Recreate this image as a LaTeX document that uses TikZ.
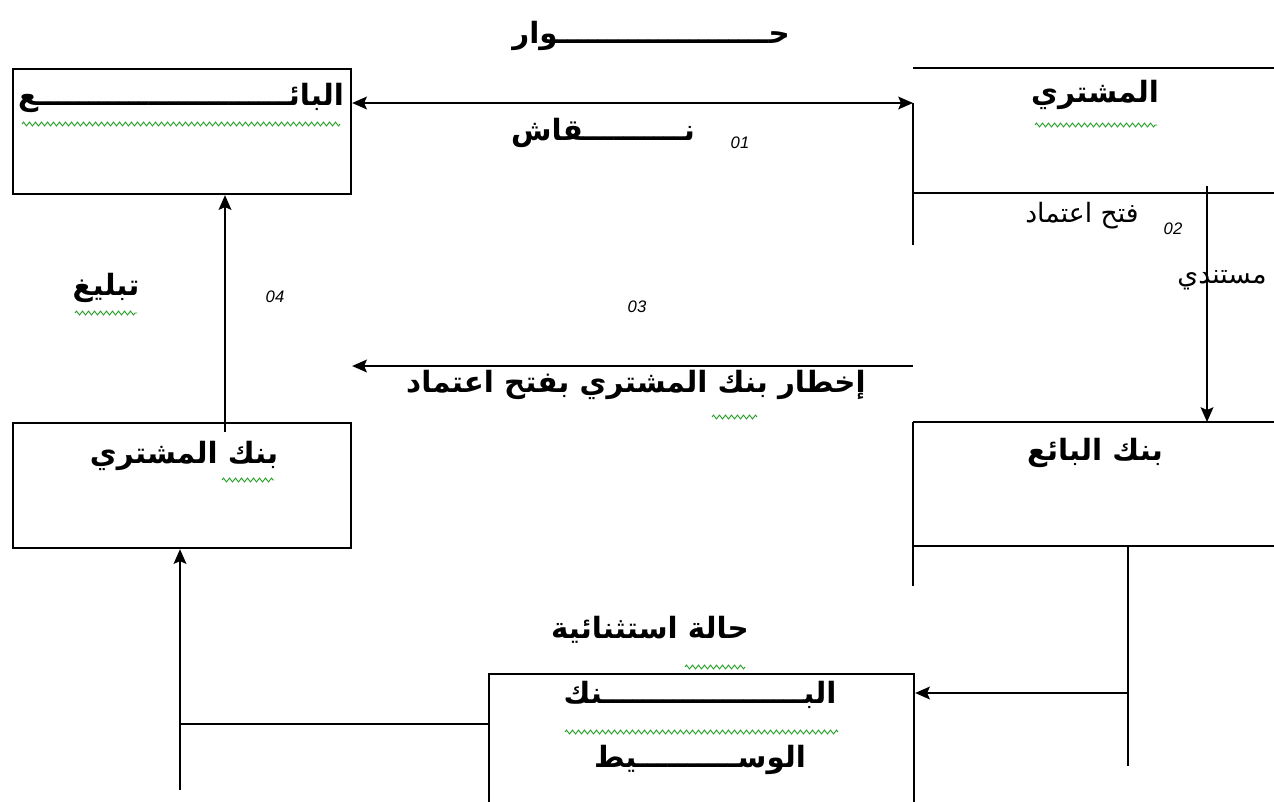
\documentclass[tikz,border=0pt]{standalone}
\usepackage{fontspec}
\usetikzlibrary{arrows.meta,decorations.pathmorphing}
\TeXXeTstate=1
\newfontfamily\arab[Script=Arabic]{DejaVu Sans}
\newfontfamily\lat{Liberation Sans}
\definecolor{spell}{RGB}{40,160,40}
\begin{document}
\begin{tikzpicture}[x=0.75pt,y=-0.75pt,
  line/.style={line width=1.6pt},
  arr/.style={line, -{Stealth[length=11pt,width=9.5pt,inset=2pt]}},
  darr/.style={line, {Stealth[length=11pt,width=9.5pt,inset=2pt]}-{Stealth[length=11pt,width=9.5pt,inset=2pt]}},
  box/.style={draw, line width=1.6pt, anchor=north west, inner sep=0pt},
  big/.style={font=\arab\bfseries\fontsize{22}{26}\selectfont, inner sep=0pt},
  small/.style={font=\arab\fontsize{20}{24}\selectfont, inner sep=0pt},
  num/.style={font=\lat\itshape\fontsize{12.5}{15}\selectfont, inner sep=0pt},
  wavy/.style={draw=spell, line width=0.7pt, decorate, decoration={zigzag, amplitude=1.4pt, segment length=4.5pt}}]
\useasboundingbox (0,0) rectangle (1274,801);

% boxes
\node[box, minimum width=253.5pt, minimum height=93.75pt] (seller) at (12,68) {};
\node[box, minimum width=253.5pt, minimum height=93.75pt] (bbank) at (12,422) {};
\node[box, minimum width=318.75pt, minimum height=120pt] (mid) at (488,673) {};

% open boxes on the right
\coordinate (bu1) at (913,68);
\coordinate (bu2) at (1274,68);
\coordinate (bu3) at (913,193);
\coordinate (bu4) at (1274,193);
\coordinate (bu5) at (913,245);
\coordinate (bu0) at (913,103);
\draw[line] (bu1) -- (bu2);
\draw[line] (bu3) -- (bu4);
\draw[line] (bu0) -- (bu5);

\coordinate (sb1) at (913,422);
\coordinate (sb2) at (1274,422);
\coordinate (sb3) at (913,546);
\coordinate (sb4) at (1274,546);
\coordinate (sb5) at (913,586);
\draw[line] (sb1) -- (sb2);
\draw[line] (sb3) -- (sb4);
\draw[line] (sb1) -- (sb5);

% labels
\node[big] (hiwar) at (651,36) {\beginR حـــــــــــــــــــــوار\endR};
\node[big] (niqash) at (603,133) {\beginR نــــــــــقاش\endR};
\node[num] (n01) at (740,143) {01};
\node[big] (tseller) at (181,98) {\beginR البائـــــــــــــــــــــــــع\endR};
\node[big] (tbuyer) at (1095,95) {\beginR المشتري\endR};
\node[small] (t02) at (1082,216) {\beginR فتح اعتماد\endR};
\node[num] (n02) at (1173,229) {02};
\node[small] (t02b) at (1222,280) {\beginR مستندي\endR};
\node[num] (n03) at (637,307) {03};
\node[big] (t03) at (636,385) {\beginR إخطار بنك المشتري بفتح اعتماد\endR};
\node[big] (t04) at (106,288) {\beginR تبليغ\endR};
\node[num] (n04) at (275,297) {04};
\node[big] (tbbank) at (184,456) {\beginR بنك المشتري\endR};
\node[big] (tsbank) at (1095,453) {\beginR بنك البائع\endR};
\node[big] (texc) at (650,630) {\beginR حالة استثنائية\endR};
\node[big] (tmid1) at (700,695) {\beginR البــــــــــــــــــــنك\endR};
\node[big] (tmid2) at (700,760) {\beginR الوســــــــــيط\endR};

% spell-check underlines
\draw[wavy] (22,124) -- (340,124);
\draw[wavy] (1035,125) -- (1157,125);
\draw[wavy] (712,417) -- (757,417);
\draw[wavy] (75,313) -- (137,313);
\draw[wavy] (222,480) -- (274,480);
\draw[wavy] (685,667) -- (745,667);
\draw[wavy] (565,732) -- (838,732);

% connectors
\coordinate (a01r) at (913,103);
\draw[darr] (seller.east |- a01r) -- (a01r);

\coordinate (a02s) at (1207,186);
\coordinate (a02e) at (1207,422);
\draw[arr] (a02s) -- (a02e);

\coordinate (a03s) at (913,366);
\draw[arr] (a03s) -- (seller.east |- a03s);

\coordinate (a04s) at (225,432);
\draw[arr] (a04s) -- (seller.south -| a04s);

\coordinate (c1) at (1128,546);
\coordinate (c2) at (1128,766);
\coordinate (c3) at (1128,693);
\draw[line] (c1) -- (c2);
\draw[arr] (c3) -- (mid.east |- c3);

\coordinate (d1) at (180,724);
\coordinate (d2) at (180,790);
\draw[line] (mid.west |- d1) -- (d1);
\draw[arr] (d2) -- (bbank.south -| d2);
\end{tikzpicture}
\end{document}
